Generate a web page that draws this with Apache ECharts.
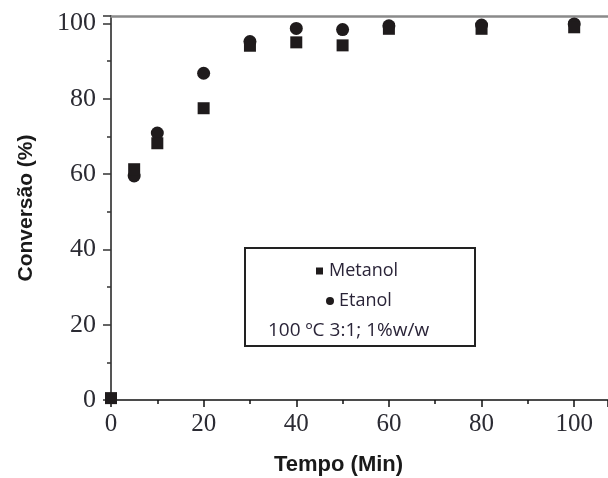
<!DOCTYPE html>
<html>
<head>
<meta charset="utf-8">
<script src="https://cdn.jsdelivr.net/npm/echarts@6/dist/echarts.min.js"></script>
<style>html,body{margin:0;padding:0;background:#fff}#c{width:608px;height:478px}</style>
</head>
<body>
<div id="c"></div>
<script>
var tempo = [0, 5, 10, 20, 30, 40, 50, 60, 80, 100];
var tempoEtanol = [5, 10, 20, 30, 40, 50, 60, 80, 100];
var metanol = [0.5, 61.3, 68.2, 77.5, 94.1, 95.0, 94.2, 98.6, 98.6, 99.0];
var etanol = [59.5, 70.9, 86.8, 95.2, 98.7, 98.4, 99.4, 99.6, 99.9];
var xTicks = [0, 20, 40, 60, 80, 100];
var yTicks = [0, 20, 40, 60, 80, 100];

var chart = echarts.init(document.getElementById('c'), null, {renderer: 'canvas'});
var dark = '#1f1b1c';
var txt = '#2a2438';
chart.setOption({
  animation: false,
  backgroundColor: '#fff',
  grid: {left: 111, top: 16, right: 0, bottom: 78, containLabel: false},
  xAxis: [{
    type: 'value', min: 0, max: 107.3, interval: 20,
    axisLine: {lineStyle: {color: '#111', width: 1.5}},
    axisTick: {show: true, inside: false, length: 7, lineStyle: {color: '#111', width: 1.5}},
    minorTick: {show: true, splitNumber: 2, length: 4, lineStyle: {color: '#111', width: 1.5}},
    splitLine: {show: false},
    axisLabel: {
      margin: 12, color: '#2b2b33', fontFamily: 'Liberation Serif', fontSize: 25,
      showMaxLabel: false,
      formatter: function (v) { return xTicks.indexOf(v) >= 0 ? String(v) : ''; }
    }
  }, {
    type: 'value', min: 0, max: 107.3, position: 'top',
    axisLine: {show: true, lineStyle: {color: '#8a8a8a', width: 2.5}},
    axisTick: {show: false}, axisLabel: {show: false}, splitLine: {show: false}
  }],
  yAxis: [{
    type: 'value', min: 0, max: 102, interval: 20,
    name: 'Conversão (%)', nameLocation: 'middle', nameGap: 74,
    nameTextStyle: {fontFamily: 'Liberation Sans', fontWeight: 'bold', fontSize: 21, color: '#1a1a1a'},
    axisLine: {lineStyle: {color: '#555', width: 2}},
    axisTick: {show: true, length: 8, lineStyle: {color: '#333', width: 1.5}},
    minorTick: {show: true, splitNumber: 2, length: 4, lineStyle: {color: '#333', width: 1.5}},
    splitLine: {show: false},
    axisLabel: {
      margin: 15, color: '#2b2b33', fontFamily: 'Liberation Serif', fontSize: 26,
      showMaxLabel: false,
      formatter: function (v) { return yTicks.indexOf(v) >= 0 ? String(v) : ''; }
    }
  }],
  legend: [{
    data: ['Metanol'], left: 311, top: 257, icon: 'rect', itemWidth: 7, itemHeight: 7, itemGap: 0,
    textStyle: {fontFamily: 'Open Sans', fontSize: 18, color: txt, padding: [0, 0, 0, 1]}
  }, {
    data: ['Etanol'], left: 321, top: 287, icon: 'circle', itemWidth: 8, itemHeight: 8, itemGap: 0,
    textStyle: {fontFamily: 'Open Sans', fontSize: 18, color: txt, padding: [0, 0, 0, 0]}
  }],
  graphic: [
    {type: 'rect', left: 244, top: 247, shape: {width: 230, height: 98},
     style: {fill: 'rgba(0,0,0,0)', stroke: '#222', lineWidth: 2}, z: 10},
    {type: 'text', left: 268, top: 321,
     style: {text: '100 ºC 3:1; 1%w/w', font: '19px "Open Sans"', fill: txt}, z: 10},
    {type: 'text', left: 274, top: 454,
     style: {text: 'Tempo (Min)', font: 'bold 22px "Liberation Sans"', fill: '#1a1a1a'}}
  ],
  series: [{
    name: 'Metanol', type: 'scatter', symbol: 'rect', symbolSize: 12,
    itemStyle: {color: dark, opacity: 1},
    data: tempo.map(function (t, i) { return [t, metanol[i]]; }),
    z: 3
  }, {
    name: 'Etanol', type: 'scatter', symbol: 'circle', symbolSize: 13,
    itemStyle: {color: dark, opacity: 1},
    data: tempoEtanol.map(function (t, i) { return [t, etanol[i]]; }),
    z: 2
  }]
});
</script>
</body>
</html>
